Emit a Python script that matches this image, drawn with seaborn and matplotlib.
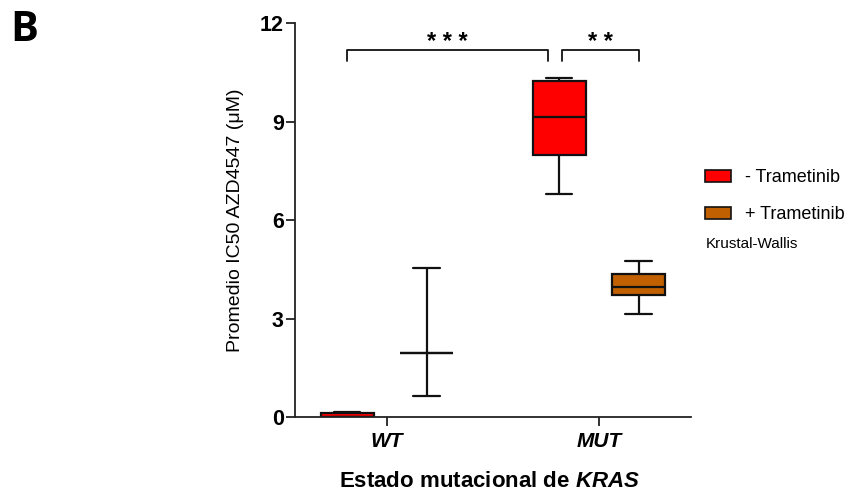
import matplotlib
matplotlib.use("Agg")
import matplotlib.pyplot as plt
import seaborn as sns
import pandas as pd

# Groups and treatments
estado = ["WT", "MUT"]
tratamiento = ["- Trametinib", "+ Trametinib"]
colores = ["#FF0000", "#C06000"]

# Five-number summaries (min, Q1, median, Q3, max) of IC50 AZD4547 (uM)
wt_sin = [0.0, 0.01, 0.01, 0.13, 0.16]
wt_con = [0.64, 1.94, 1.94, 1.94, 4.54]
mut_sin = [6.80, 7.98, 9.15, 10.23, 10.34]
mut_con = [3.14, 3.72, 3.97, 4.36, 4.75]

# Significance brackets: (group a, hue a, group b, hue b, label)
comparaciones = [("WT", 0, "MUT", 0, "* * *"), ("MUT", 0, "MUT", 1, "* *")]

rows = []
for est, trat, vals in [("WT", tratamiento[0], wt_sin), ("WT", tratamiento[1], wt_con),
                        ("MUT", tratamiento[0], mut_sin), ("MUT", tratamiento[1], mut_con)]:
    for v in vals:
        rows.append({"estado": est, "tratamiento": trat, "ic50": v})
df = pd.DataFrame(rows)

sns.set_theme(style="ticks")
plt.rcParams["font.family"] = ["Liberation Sans", "DejaVu Sans"]
plt.rcParams["mathtext.fontset"] = "custom"
plt.rcParams["mathtext.rm"] = "Liberation Sans:bold"
plt.rcParams["mathtext.bfit"] = "Liberation Sans:italic:bold"
plt.rcParams["mathtext.it"] = "Liberation Sans:italic:bold"
for k in ["text.color", "axes.labelcolor", "xtick.color", "ytick.color"]:
    plt.rcParams[k] = "black"

fig = plt.figure(figsize=(8.52, 4.91), dpi=100)
ax = fig.add_axes([0.3462, 0.1507, 0.4648, 0.8024])

edge = "#111111"
sns.boxplot(data=df, x="estado", y="ic50", hue="tratamiento", order=estado,
            hue_order=tratamiento, palette=colores, saturation=1, whis=(0, 100),
            gap=0.333, width=0.75, linewidth=1.6, linecolor=edge, fliersize=0,
            ax=ax, legend=True)

ax.set_ylim(0, 12)
ax.set_yticks([0, 3, 6, 9, 12])
ax.set_xlim(-0.434, 1.434)
for s in ["top", "right"]:
    ax.spines[s].set_visible(False)
for s in ["left", "bottom"]:
    ax.spines[s].set_color("#222222")
    ax.spines[s].set_linewidth(1.3)
ax.tick_params(axis="y", direction="out", length=6.5, width=1.3, color="#222222",
               labelsize=15.5, pad=1.5)
ax.tick_params(axis="x", direction="out", length=6.5, width=1.3, color="#222222",
               labelsize=15, pad=4)
for lab in ax.get_yticklabels():
    lab.set_fontweight("bold")
for lab in ax.get_xticklabels():
    lab.set_fontweight("bold")
    lab.set_fontstyle("italic")

ax.set_ylabel("Promedio IC50 AZD4547 (\u03bcM)", fontsize=14)
ax.yaxis.set_label_coords(-0.128, 0.5)
ax.set_xlabel("Estado mutacional de $\\mathbfit{KRAS}$", fontsize=16,
              fontweight="bold")
ax.xaxis.set_label_coords(0.49, -0.136)

# Significance brackets
off = 0.1875
y_top, y_leg = 11.18, 10.84
for ga, ha, gb, hb, lab in comparaciones:
    xa = estado.index(ga) + (-off if ha == 0 else off)
    xb = estado.index(gb) + (-off if hb == 0 else off)
    if ga == gb:
        xa += 0.012
    else:
        xb -= 0.054
    ax.plot([xa, xa, xb, xb], [y_leg, y_top, y_top, y_leg], color="#111111",
            lw=1.3, clip_on=False)
    ax.text((xa + xb) / 2, y_top + 0.03, lab, ha="center", va="baseline",
            fontsize=17, fontweight="bold")

sns.move_legend(ax, loc="upper left", bbox_to_anchor=(0.8275, 0.656),
                bbox_transform=fig.transFigure, frameon=False, title=None,
                fontsize=13, borderaxespad=0, borderpad=0, handlelength=1.45,
                handleheight=0.65, handletextpad=0.75, labelspacing=1.13)
for h in ax.get_legend().legend_handles:
    h.set_edgecolor("#111111")
    h.set_linewidth(1.2)

fig.text(0.8286, 0.504, "Krustal-Wallis", fontsize=11, ha="left", va="center")
fig.text(0.012, 0.938, "B", fontsize=30, fontweight="bold", ha="left", va="center",
         family=["Open Sans", "DejaVu Sans"])

fig.savefig("out.png", dpi=100)
